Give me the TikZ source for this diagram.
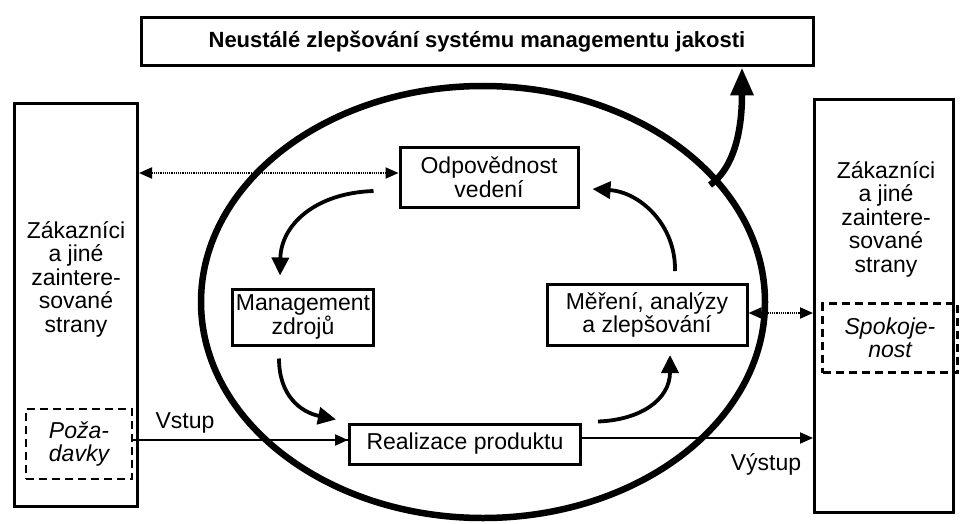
\documentclass[tikz,border=0pt]{standalone}
\usepackage{fontspec}
\setmainfont{Liberation Sans}
\usetikzlibrary{arrows.meta,calc}
\begin{document}
\begin{tikzpicture}[x=1pt,y=-1pt,
  box/.style={draw,line width=3pt,inner sep=0pt},
  dashbox/.style={draw,line width=2.4pt,dash pattern=on 8pt off 5pt,inner sep=0pt},
  lbl/.style={font=\fontsize{23}{23.5}\selectfont,align=center},
  thin/.style={line width=2pt,-{Triangle[length=13pt,width=11pt]}},
  dots/.style={line width=2pt,dash pattern=on 1.2pt off 1pt,
    {Triangle[length=13pt,width=11pt]}-{Triangle[length=13pt,width=11pt]}},
  cyc/.style={line width=3.8pt,-{Triangle[length=18pt,width=17pt]}},
  big/.style={line width=6.5pt,-{Triangle[length=28pt,width=22pt]}}]
\useasboundingbox (0,0) rectangle (960,524);

% outer boxes
\node[box,minimum width=672pt,minimum height=48pt] (title) at (477,42)
  {\fontsize{22}{23}\selectfont\bfseries Neustálé zlepšování systému managementu jakosti};
\node[box,minimum width=123pt,minimum height=402pt] (left) at (76,305) {};
\node[box,minimum width=139pt,minimum height=412pt] (right) at (884,306) {};
\node[lbl] (lefttext) at (76,279) {Zákazníci\\a jiné\\zaintere-\\sované\\strany};
\node[lbl] (righttext) at (886,219) {Zákazníci\\a jiné\\zaintere-\\sované\\strany};
\node[dashbox,minimum width=106pt,minimum height=70pt,lbl,font=\fontsize{23}{23.5}\selectfont\itshape] (req) at (79,444) {Poža-\\davky};
\node[dashbox,minimum width=135pt,minimum height=69pt,lbl,font=\fontsize{23}{23.5}\selectfont\itshape] (sat) at (890,338) {Spokoje-\\nost};

% process ellipse
\draw[line width=6.5pt] (483,302) ellipse [x radius=282, y radius=216];

% process boxes
\node[box,lbl,minimum width=178pt,minimum height=60pt,fill=white] (odp) at (489,177) {Odpovědnost\\vedení};
\node[box,lbl,minimum width=141pt,minimum height=56pt] (mgmt) at (303,317) {Management\\zdrojů};
\node[box,lbl,minimum width=200pt,minimum height=61pt] (mer) at (647,315) {Měření, analýzy\\a zlepšování};
\node[box,lbl,minimum width=231pt,minimum height=40pt] (real) at (465,444) {Realizace produktu};

% input and output
\coordinate (inR) at (real.west |- 0,440);
\draw[line width=2pt] (req.east |- 0,440) -- (inR);
\draw[thin] ($(inR)+(-30,0)$) -- (inR);
\draw[thin] (real.east |- 0,438) -- (right.west |- 0,438);
\node[lbl,anchor=base] (vstup) at (185,428) {Vstup};
\node[lbl,anchor=base] (vystup) at (766,470) {Výstup};

% information flows
\draw[dots] (left.east |- 0,173) -- (odp.west |- 0,173);
\draw[dots] (mer.east |- 0,313) -- (right.west |- 0,313);

% improvement cycle
\coordinate (c1s) at ($(odp.west)+(-25,14)$);
\coordinate (c1e) at ($(mgmt.north)+(-23,-12)$);
\draw[cyc] (c1s) .. controls (315,193) and (281,225) .. (c1e);
\coordinate (c2s) at ($(mgmt.south)+(-24,12)$);
\coordinate (c2e) at ($(real.north west)+(-12,-3)$);
\draw[cyc] (c2s) .. controls (279,395) and (300,412) .. (c2e);
\coordinate (c3s) at ($(real.north east)+(16,-1)$);
\coordinate (c3e) at ($(mer.south)+(23,8)$);
\draw[cyc] (c3s) .. controls (640,420) and (670,400) .. (c3e);
\coordinate (c4s) at ($(mer.north)+(28,-12)$);
\coordinate (c4e) at ($(odp.east)+(13,12)$);
\draw[cyc] (c4s) .. controls (676,225) and (640,192) .. (c4e);

% continual improvement
\coordinate (up) at (710,185);
\draw[big] (up) .. controls (738,165) and (742,120) .. (title.south -| 742,0);
\end{tikzpicture}
\end{document}
